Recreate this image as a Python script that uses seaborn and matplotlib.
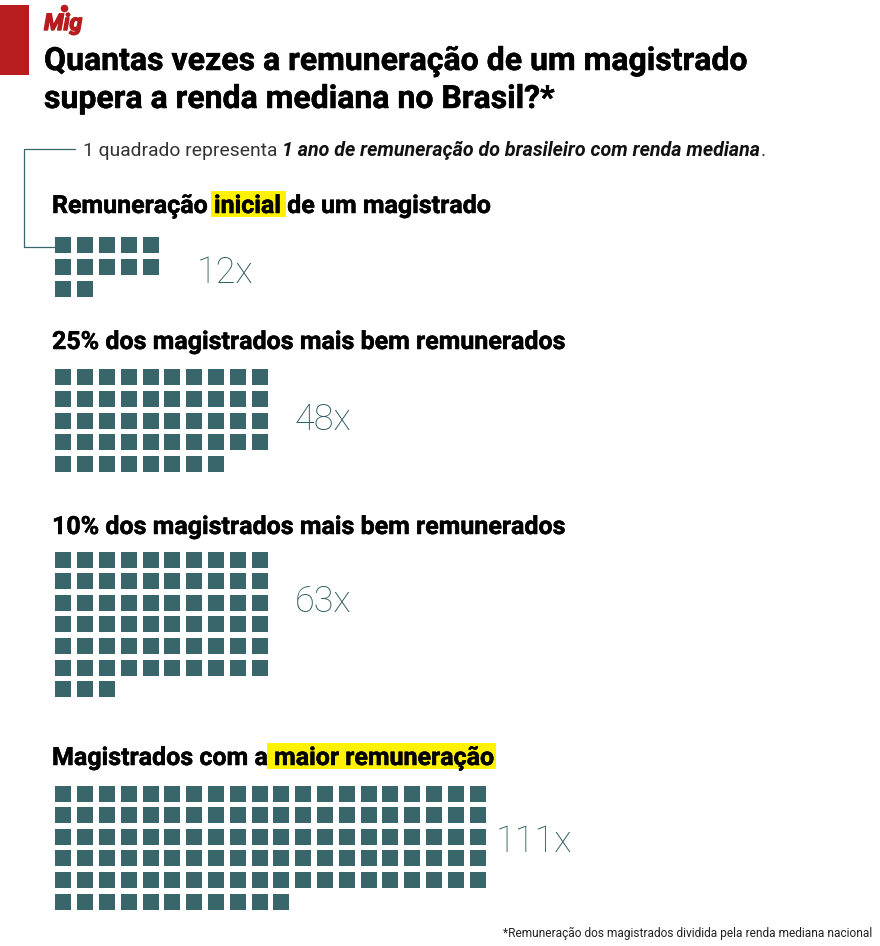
import matplotlib
matplotlib.use("Agg")
import matplotlib.pyplot as plt
from matplotlib.patches import Rectangle
import matplotlib.patheffects as pe
import pandas as pd
import seaborn as sns

# ---- data ----
group_titles = ["Remuneração inicial de um magistrado",
                "25% dos magistrados mais bem remunerados",
                "10% dos magistrados mais bem remunerados",
                "Magistrados com a maior remuneração"]
multiples = [12, 48, 63, 111]
columns_per_row = [5, 10, 10, 20]
value_labels = ["12x", "48x", "63x", "111x"]
title_lines = ["Quantas vezes a remuneração de um magistrado",
               "supera a renda mediana no Brasil?*"]
footnote = "*Remuneração dos magistrados dividida pela renda mediana nacional"

# ---- layout (pixels) ----
W, H = 880, 946
TEAL, RED, YELLOW = "#39666b", "#b71c1f", "#fff200"
FONT = "Roboto"
grid_top = [245.5, 377.5, 559.5, 793.5]
head_base = [213, 349, 534, 765]
label_pos = [(197, 283), (295, 430), (295, 612), (496, 852)]
PITCH_X, PITCH_Y, LEFT = 21.8, 21.65, 63.3

rows = []
for g, (n, cols) in enumerate(zip(multiples, columns_per_row)):
    for i in range(n):
        rows.append({"group": g,
                     "x": LEFT + (i % cols) * PITCH_X,
                     "y": grid_top[g] + (i // cols) * PITCH_Y})
df = pd.DataFrame(rows)

sns.set_theme(style="white")
plt.rcParams["font.family"] = [FONT, "DejaVu Sans"]
fig = plt.figure(figsize=(W / 100, H / 100), dpi=100)
ax = fig.add_axes([0, 0, 1, 1])
ax.set_xlim(0, W)
ax.set_ylim(H, 0)
ax.axis("off")

sns.scatterplot(data=df, x="x", y="y", marker="s", s=148, color=TEAL,
                linewidth=0, legend=False, ax=ax, zorder=3)

px = lambda v: v * 0.72

def run(x, y, parts):
    """Write consecutive styled runs on a baseline; return end x."""
    r = fig.canvas.get_renderer()
    for s, kw in parts:
        t = ax.text(x, y, s, va="baseline", ha="left", zorder=4, **kw)
        x = ax.transData.inverted().transform(
            (t.get_window_extent(r).x1, 0))[0]
    return x

# red tab + logo
ax.add_patch(Rectangle((0, 5), 29, 70, color=RED, lw=0))
ax.text(44, 30, "Mig", color=RED, fontsize=px(23), fontweight="bold",
        style="italic", va="baseline",
        path_effects=[pe.withStroke(linewidth=1.0, foreground=RED)])
ax.plot([63.5], [8.5], marker="o", ms=5.5, color=RED, mew=0)

# title
bold_fx = [pe.withStroke(linewidth=0.35, foreground="black")]
for s, yb in zip(title_lines, [70, 108]):
    ax.text(44, yb, s, fontsize=px(32), fontweight="bold", color="black",
            va="baseline", path_effects=bold_fx)

# key
line_x = [75, 24, 24, 55]
line_y = [149, 149, 247, 247]
ax.plot(line_x, line_y, color=TEAL, lw=0.9, zorder=2)
reg = dict(fontsize=px(19.3), color="#333333", fontweight="normal")
run(83, 156, [("1 quadrado representa ", reg),
              ("1 ano de remuneração do brasileiro com renda mediana",
               dict(fontsize=px(19.6), color="#111111", fontweight="bold", style="italic")),
              (".", reg)])

# highlights
ax.add_patch(Rectangle((211, 191), 75, 26, color=YELLOW, lw=0, zorder=1))
ax.add_patch(Rectangle((267, 743), 229, 26, color=YELLOW, lw=0, zorder=1))

# group headings and value labels
for s, yb in zip(group_titles, head_base):
    ax.text(52, yb, s, fontsize=px(25), fontweight="bold", color="black",
            va="baseline", zorder=4, path_effects=bold_fx)
for s, (x, y) in zip(value_labels, label_pos):
    ax.text(x, y, s, fontsize=px(36), fontweight="ultralight", color="#2f5c61",
            va="baseline", zorder=4)

ax.text(872, 937, footnote, fontsize=px(11.9), color="#222222", ha="right",
        va="baseline")

fig.savefig("out.png", dpi=100)
